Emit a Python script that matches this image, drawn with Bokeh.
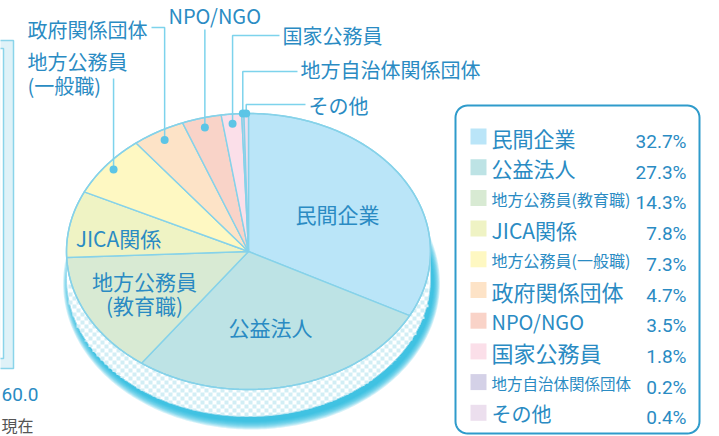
import numpy as np
from bokeh.plotting import figure
from bokeh.models import Range1d, ColumnDataSource
from bokeh.core.properties import value, field
from bokeh.embed import file_html
from bokeh.resources import INLINE

# ---------------- data ----------------
categories = ["民間企業", "公益法人", "地方公務員(教育職)", "JICA関係", "地方公務員(一般職)",
              "政府関係団体", "NPO/NGO", "国家公務員", "地方自治体関係団体", "その他"]
shares = [32.7, 27.3, 14.3, 7.8, 7.3, 4.7, 3.5, 1.8, 0.2, 0.4]
colors = ["#bae5f8", "#bde3e5", "#d8ead3", "#eff3c4", "#fef8c2",
          "#fde3c7", "#f9d3c8", "#fbdfe9", "#d4d1e7", "#ecdfee"]
axis_remnant_label = "60.0"
date_remnant_label = "現在"

# ---------------- style ----------------
FONT_JP = "Noto Sans CJK JP"
FONT_NUM = "Roboto"
TXT = "#2a8bc3"
EDGE = "#86d2e9"
LEAD = "#7dd3ec"

p = figure(width=719, height=436, x_range=Range1d(0, 719), y_range=Range1d(436, 0),
           output_backend="svg", toolbar_location=None, min_border=0)
p.xaxis.visible = False
p.yaxis.visible = False
p.grid.visible = False
p.outline_line_color = None
p.background_fill_color = "white"
p.border_fill_color = "white"

# pie geometry (layout)
cx, cy, rx, ry, d = 248.0, 251.0, 182.0, 138.0, 27.0


def ell_pt(theta, r=1.0, ox=0.0, oy=0.0, ex=0.0, ey=0.0):
    t = np.radians(theta)
    return (cx + ox + (rx + ex) * r * np.sin(t),
            cy + oy - (ry + ey) * r * np.cos(t))


# ---- left remnant of neighbouring chart ----
p.quad(left=[-30], right=[13], top=[40], bottom=[368], fill_color="#dff2f8",
       line_color="#8ad4ea", line_width=1.5)
p.quad(left=[-30], right=[3], top=[48], bottom=[358], fill_color="white",
       line_color="#8ad4ea", line_width=1.5)
p.text(x=[1], y=[394], text=[axis_remnant_label], text_font=value(FONT_NUM),
       text_font_size="19px", text_color=TXT, text_align="left", text_baseline="middle")
p.text(x=[1], y=[424], text=[date_remnant_label], text_font=value(FONT_JP),
       text_font_size="16px", text_color="#555555", text_align="left", text_baseline="middle")

# ---- shadow under the pie ----
full = np.linspace(0, 360, 361)
for s in range(8, -1, -1):
    xs, ys = ell_pt(full, ox=3, oy=d + 5, ex=0.8 * s, ey=s)
    p.patch(list(xs), list(ys), fill_color="#19b8dd", fill_alpha=0.18, line_color=None)

# ---- rim (side of the 3D pie) ----
arc = np.linspace(90, 270, 181)
tx, ty = ell_pt(arc)
bx, by = ell_pt(arc[::-1], oy=d)
p.patch(list(np.r_[tx, bx]), list(np.r_[ty, by]), fill_color="white",
        line_color="#9fdcee", line_width=1)

cell = 4
L, R, T, B = [], [], [], []
x0 = np.floor((cx - rx) / cell) * cell
while x0 < cx + rx:
    xc = x0 + cell / 2
    u = (xc - cx) / rx
    if abs(u) < 1:
        ytop = cy + ry * np.sqrt(1 - u * u)
        ybot = ytop + d
        y0 = np.floor(ytop / cell) * cell
        while y0 < ybot:
            if (int(x0 // cell) + int(y0 // cell)) % 2 == 0:
                top = max(y0, ytop)
                bot = min(y0 + cell, ybot)
                if bot > top:
                    L.append(x0); R.append(x0 + cell); T.append(top); B.append(bot)
            y0 += cell
    x0 += cell
p.quad(left=L, right=R, top=T, bottom=B, fill_color="#d2eef5", line_color=None)

# ---- top face slices ----
total = float(np.sum(shares))
edges = np.concatenate([[0.0], np.cumsum(shares)]) / total * 360.0
sx, sy = [], []
for a0, a1 in zip(edges[:-1], edges[1:]):
    n = max(2, int((a1 - a0) / 0.5) + 2)
    th = np.linspace(a0, a1, n)
    ax_, ay_ = ell_pt(th)
    sx.append([cx] + list(ax_))
    sy.append([cy] + list(ay_))
p.patches(sx, sy, fill_color=colors, line_color=EDGE, line_width=1.4)
ox_, oy_ = ell_pt(full)
p.line(list(ox_), list(oy_), line_color=EDGE, line_width=1.5)

# ---- labels inside pie ----
inner_src = ColumnDataSource(dict(
    x=[337, 270, 118, 144, 144],
    y=[213, 326, 237, 280, 304],
    t=[categories[0], categories[1], categories[3],
       categories[2].split("(")[0], "(" + categories[2].split("(")[1]],
))
p.text(x="x", y="y", text="t", source=inner_src, text_font=value(FONT_JP),
       text_font_size="21px", text_color=TXT, text_align="center", text_baseline="middle")

# ---- callouts for small slices ----
mids = (edges[:-1] + edges[1:]) / 2
callouts = [
    (4, 0.95, [(categories[4].split("(")[0], 27, 61), ("(" + categories[4].split("(")[1], 27, 85)],
     [(None, 78)]),
    (5, 0.93, [(categories[5], 27, 29)], [(151, 27), (None, 27)]),
    (6, 0.93, [(categories[6], 168, 15)], [(None, 29)]),
    (7, 0.93, [(categories[7], 282, 35)], [(279, 35), (None, 35)]),
    (8, 1.0, [(categories[8], 300, 69)], [(297, 71), (None, 71)]),
    (9, 1.0, [(categories[9], 308, 105)], [(305, 104), (None, 104)]),
]
dot_x, dot_y = [], []
lx, ly, lt = [], [], []
for idx, rf, lines, path in callouts:
    dxp, dyp = ell_pt(mids[idx], r=rf)
    dxp, dyp = float(dxp), float(dyp)
    px = [dxp if a is None else a for a, b in path] + [dxp]
    py = [b for a, b in path] + [dyp]
    p.line(px, py, line_color=LEAD, line_width=1.5)
    dot_x.append(dxp); dot_y.append(dyp)
    for t, x, y in lines:
        lt.append(t); lx.append(x); ly.append(y)
p.scatter(dot_x, dot_y, size=8, fill_color="#5cc5e6", line_color=None)
p.text(x=lx, y=ly, text=lt, text_font=value(FONT_JP), text_font_size="20px",
       text_color=TXT, text_align="left", text_baseline="middle")

# ---- legend box ----
bl, br, bt, bb, rad = 455.0, 699.0, 105.0, 433.0, 12.0
corner = np.linspace(0, 90, 10)
c = np.cos(np.radians(corner)); s_ = np.sin(np.radians(corner))
px = list(np.r_[br - rad + rad * s_, br - rad + rad * c, bl + rad - rad * s_, bl + rad - rad * c])
py = list(np.r_[bt + rad - rad * c, bb - rad + rad * s_, bb - rad + rad * c, bt + rad - rad * s_])
p.patch(px + [px[0]], py + [py[0]], fill_color="white", line_color="#2f9bcb", line_width=2)

row_y = [137 + 30.7 * k for k in range(len(categories))]
p.rect(x=[478] * len(categories), y=[y - 1 for y in row_y], width=16, height=16,
       fill_color=colors, line_color=None)
leg_sizes = ["21px", "21px", "16px", "21px", "16px", "22px", "20px", "22px", "15.5px", "20px"]
leg_src = ColumnDataSource(dict(x=[491] * len(categories), y=row_y, t=categories, fs=leg_sizes))
p.text(x="x", y="y", text="t", source=leg_src, text_font=value(FONT_JP),
       text_font_size=field("fs"), text_color=TXT, text_align="left", text_baseline="middle")
pct = [f"{v:.1f}%" for v in shares]
p.text(x=[686] * len(categories), y=[y + 4 for y in row_y], text=pct,
       text_font=value(FONT_NUM), text_font_size="19px", text_color=TXT,
       text_align="right", text_baseline="middle")

open("out.html", "w").write(file_html(p, INLINE))
